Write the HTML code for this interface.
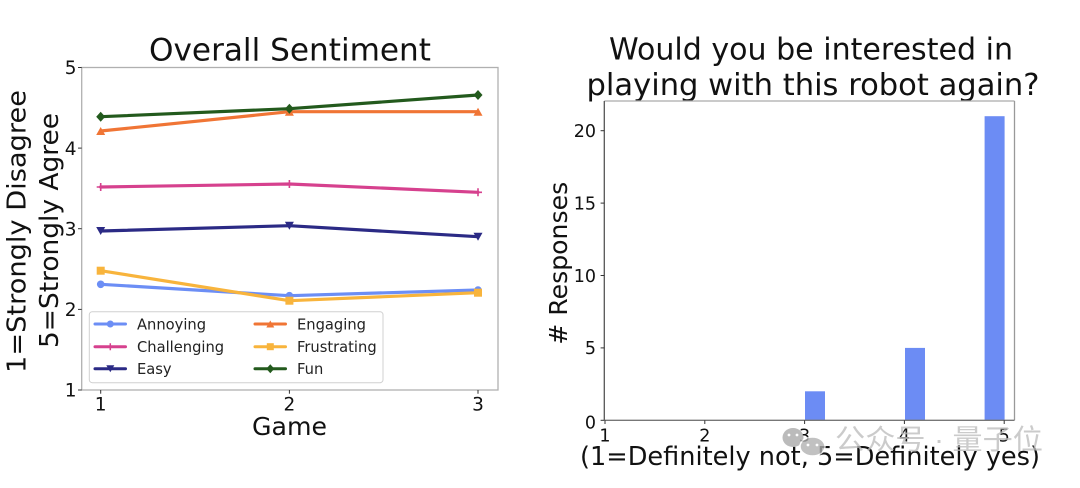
<!DOCTYPE html>
<html>
<head>
<meta charset="utf-8">
<style>
  html, body { margin: 0; padding: 0; background: #ffffff; }
  body { width: 1080px; height: 488px; overflow: hidden; }
  svg { display: block; }
  text { font-family: "DejaVu Sans", "Liberation Sans", sans-serif; fill: #111; }
</style>
</head>
<body>
<svg width="1080" height="488" viewBox="0 0 1080 488" xmlns="http://www.w3.org/2000/svg">
  <rect x="0" y="0" width="1080" height="488" fill="#ffffff"/>

  <!-- ================= LEFT CHART ================= -->
  <text x="290" y="60.6" font-size="31" text-anchor="middle" textLength="282" lengthAdjust="spacingAndGlyphs">Overall Sentiment</text>

  <rect x="81.7" y="67.5" width="416.3" height="322.5" fill="none" stroke="#b0b0b0" stroke-width="1.3"/>

  <g stroke="#333" stroke-width="1">
    <line x1="78" y1="67.5" x2="81.7" y2="67.5"/>
    <line x1="78" y1="148.1" x2="81.7" y2="148.1"/>
    <line x1="78" y1="228.7" x2="81.7" y2="228.7"/>
    <line x1="78" y1="309.4" x2="81.7" y2="309.4"/>
    <line x1="78" y1="390" x2="81.7" y2="390"/>
    <line x1="100.7" y1="390" x2="100.7" y2="393.7"/>
    <line x1="289.4" y1="390" x2="289.4" y2="393.7"/>
    <line x1="478" y1="390" x2="478" y2="393.7"/>
  </g>
  <g font-size="18.5" text-anchor="end">
    <text x="76.5" y="74.2">5</text>
    <text x="76.5" y="154.8">4</text>
    <text x="76.5" y="235.4">3</text>
    <text x="76.5" y="316.1">2</text>
    <text x="76.5" y="396.7">1</text>
  </g>
  <g font-size="18.5" text-anchor="middle">
    <text x="100.7" y="410.5">1</text>
    <text x="289.4" y="410.5">2</text>
    <text x="478" y="410.5">3</text>
  </g>
  <text x="289.5" y="435" font-size="25" text-anchor="middle" textLength="75" lengthAdjust="spacingAndGlyphs">Game</text>

  <g transform="translate(25.5,231.5) rotate(-90)">
    <text x="0" y="0" font-size="26" text-anchor="middle" textLength="283" lengthAdjust="spacingAndGlyphs">1=Strongly Disagree</text>
  </g>
  <g transform="translate(58,230.5) rotate(-90)">
    <text x="0" y="0" font-size="26" text-anchor="middle" textLength="235" lengthAdjust="spacingAndGlyphs">5=Strongly Agree</text>
  </g>

  <g fill="none" stroke-width="3.2" stroke-linejoin="round" stroke-linecap="round">
    <polyline points="100.7,284.3 289.4,295.7 478,290" stroke="#6c8ef5"/>
    <polyline points="100.7,187 289.4,184 478,192.3" stroke="#d6418e"/>
    <polyline points="100.7,231 289.4,225.7 478,236.7" stroke="#2b2a85"/>
    <polyline points="100.7,131 289.4,111.7 478,111.7" stroke="#f07535"/>
    <polyline points="100.7,270.7 289.4,300.7 478,292.7" stroke="#f8b43c"/>
    <polyline points="100.7,116.7 289.4,108.7 478,95" stroke="#235a1d"/>
  </g>
  <g fill="#6c8ef5">
    <circle cx="100.7" cy="284.3" r="3.8"/>
    <circle cx="289.4" cy="295.7" r="3.8"/>
    <circle cx="478" cy="290" r="3.8"/>
  </g>
  <g stroke="#d6418e" stroke-width="1.6">
    <path d="M96.7 187 H104.7 M100.7 183 V191"/>
    <path d="M285.4 184 H293.4 M289.4 180 V188"/>
    <path d="M474 192.3 H482 M478 188.3 V196.3"/>
  </g>
  <g fill="#2b2a85">
    <polygon points="96.2,227 105.2,227 100.7,235"/>
    <polygon points="284.9,221.7 293.9,221.7 289.4,229.7"/>
    <polygon points="473.5,232.7 482.5,232.7 478,240.7"/>
  </g>
  <g fill="#f07535">
    <polygon points="96.2,135 105.2,135 100.7,127"/>
    <polygon points="284.9,115.7 293.9,115.7 289.4,107.7"/>
    <polygon points="473.5,115.7 482.5,115.7 478,107.7"/>
  </g>
  <g fill="#f8b43c">
    <rect x="96.7" y="266.7" width="8" height="8"/>
    <rect x="285.4" y="296.7" width="8" height="8"/>
    <rect x="474" y="288.7" width="8" height="8"/>
  </g>
  <g fill="#235a1d">
    <polygon points="100.7,111.7 105.2,116.7 100.7,121.7 96.2,116.7"/>
    <polygon points="289.4,103.7 293.9,108.7 289.4,113.7 284.9,108.7"/>
    <polygon points="478,90 482.5,95 478,100 473.5,95"/>
  </g>

  <rect x="89.3" y="311.7" width="293.7" height="71" rx="3" ry="3" fill="#ffffff" fill-opacity="0.85" stroke="#d0d0d0" stroke-width="1"/>
  <g stroke-width="3" stroke-linecap="round">
    <line x1="95" y1="324" x2="125.5" y2="324" stroke="#6c8ef5"/>
    <line x1="95" y1="346.7" x2="125.5" y2="346.7" stroke="#d6418e"/>
    <line x1="95" y1="368.7" x2="125.5" y2="368.7" stroke="#2b2a85"/>
    <line x1="255" y1="324" x2="285.5" y2="324" stroke="#f07535"/>
    <line x1="255" y1="346.7" x2="285.5" y2="346.7" stroke="#f8b43c"/>
    <line x1="255" y1="368.7" x2="285.5" y2="368.7" stroke="#235a1d"/>
  </g>
  <circle cx="110.3" cy="324" r="3.5" fill="#6c8ef5"/>
  <path d="M106.8 346.7 H113.8 M110.3 343.2 V350.2" stroke="#d6418e" stroke-width="1.5"/>
  <polygon points="106.3,365.2 114.3,365.2 110.3,372.2" fill="#2b2a85"/>
  <polygon points="266.3,327.5 274.3,327.5 270.3,320.5" fill="#f07535"/>
  <rect x="266.8" y="343.2" width="7" height="7" fill="#f8b43c"/>
  <polygon points="270.3,364.2 274.3,368.7 270.3,373.2 266.3,368.7" fill="#235a1d"/>
  <g font-size="14.7">
    <text x="137" y="329.3" style="fill:#222">Annoying</text>
    <text x="137" y="352" style="fill:#222">Challenging</text>
    <text x="137" y="374" style="fill:#222">Easy</text>
    <text x="297" y="329.3" style="fill:#222">Engaging</text>
    <text x="297" y="352" style="fill:#222">Frustrating</text>
    <text x="297" y="374" style="fill:#222">Fun</text>
  </g>

  <!-- ================= RIGHT CHART ================= -->
  <text x="811" y="59.5" font-size="30" text-anchor="middle" textLength="404" lengthAdjust="spacingAndGlyphs">Would you be interested in</text>
  <text x="813" y="95" font-size="30" text-anchor="middle" textLength="453" lengthAdjust="spacingAndGlyphs">playing with this robot again?</text>

  <g fill="#6c8cf4">
    <rect x="805" y="391.3" width="20" height="29"/>
    <rect x="905" y="347.9" width="20" height="72.4"/>
    <rect x="984.6" y="116.2" width="20" height="304.1"/>
  </g>

  <line x1="604.3" y1="101" x2="1014.5" y2="101" stroke="#aaaaaa" stroke-width="1.3"/>
  <line x1="1014.5" y1="101" x2="1014.5" y2="420.3" stroke="#999999" stroke-width="1.3"/>
  <line x1="604.3" y1="101" x2="604.3" y2="420.3" stroke="#555555" stroke-width="1.3"/>
  <line x1="604.3" y1="420.3" x2="1014.5" y2="420.3" stroke="#777777" stroke-width="1.3"/>

  <g stroke="#333" stroke-width="1">
    <line x1="600.6" y1="420.3" x2="604.3" y2="420.3"/>
    <line x1="600.6" y1="347.9" x2="604.3" y2="347.9"/>
    <line x1="600.6" y1="275.5" x2="604.3" y2="275.5"/>
    <line x1="600.6" y1="203.1" x2="604.3" y2="203.1"/>
    <line x1="600.6" y1="130.7" x2="604.3" y2="130.7"/>
    <line x1="605" y1="420.3" x2="605" y2="424"/>
    <line x1="704.8" y1="420.3" x2="704.8" y2="424"/>
    <line x1="804.6" y1="420.3" x2="804.6" y2="424"/>
    <line x1="904.4" y1="420.3" x2="904.4" y2="424"/>
    <line x1="1004.2" y1="420.3" x2="1004.2" y2="424"/>
  </g>
  <g font-size="17.5" text-anchor="end">
    <text x="596" y="428.5">0</text>
    <text x="596" y="354.2">5</text>
    <text x="596" y="281.8">10</text>
    <text x="596" y="209.4">15</text>
    <text x="596" y="137">20</text>
  </g>
  <g font-size="17.5" text-anchor="middle">
    <text x="605" y="441.5">1</text>
    <text x="704.8" y="441.5">2</text>
    <text x="804.6" y="441.5">3</text>
    <text x="904.4" y="441.5">4</text>
    <text x="1004.2" y="441.5">5</text>
  </g>

  <text x="810" y="465" font-size="25.5" text-anchor="middle" textLength="460" lengthAdjust="spacingAndGlyphs">(1=Definitely not, 5=Definitely yes)</text>

  <g transform="translate(567,263.3) rotate(-90)">
    <text x="0" y="0" font-size="25" text-anchor="middle" textLength="163" lengthAdjust="spacingAndGlyphs"># Responses</text>
  </g>

  <!-- ================= WATERMARK ================= -->
  <g opacity="0.78">
    <ellipse cx="793" cy="437.5" rx="10.5" ry="9.5" fill="#a8a8a8"/>
    <circle cx="789" cy="435" r="1.4" fill="#ffffff"/>
    <circle cx="797" cy="435" r="1.4" fill="#ffffff"/>
    <ellipse cx="812.5" cy="446.5" rx="12.5" ry="9.5" fill="#b0b0b0" stroke="#ffffff" stroke-width="1.5"/>
    <circle cx="808" cy="445" r="1.4" fill="#ffffff"/>
    <circle cx="817" cy="445" r="1.4" fill="#ffffff"/>
    <text x="835" y="449" font-size="28" textLength="208" lengthAdjust="spacingAndGlyphs" style="fill:#bdbdbd;font-family:'Liberation Sans','Noto Sans CJK SC',sans-serif;">公众号 · 量子位</text>
  </g>
</svg>
</body>
</html>
